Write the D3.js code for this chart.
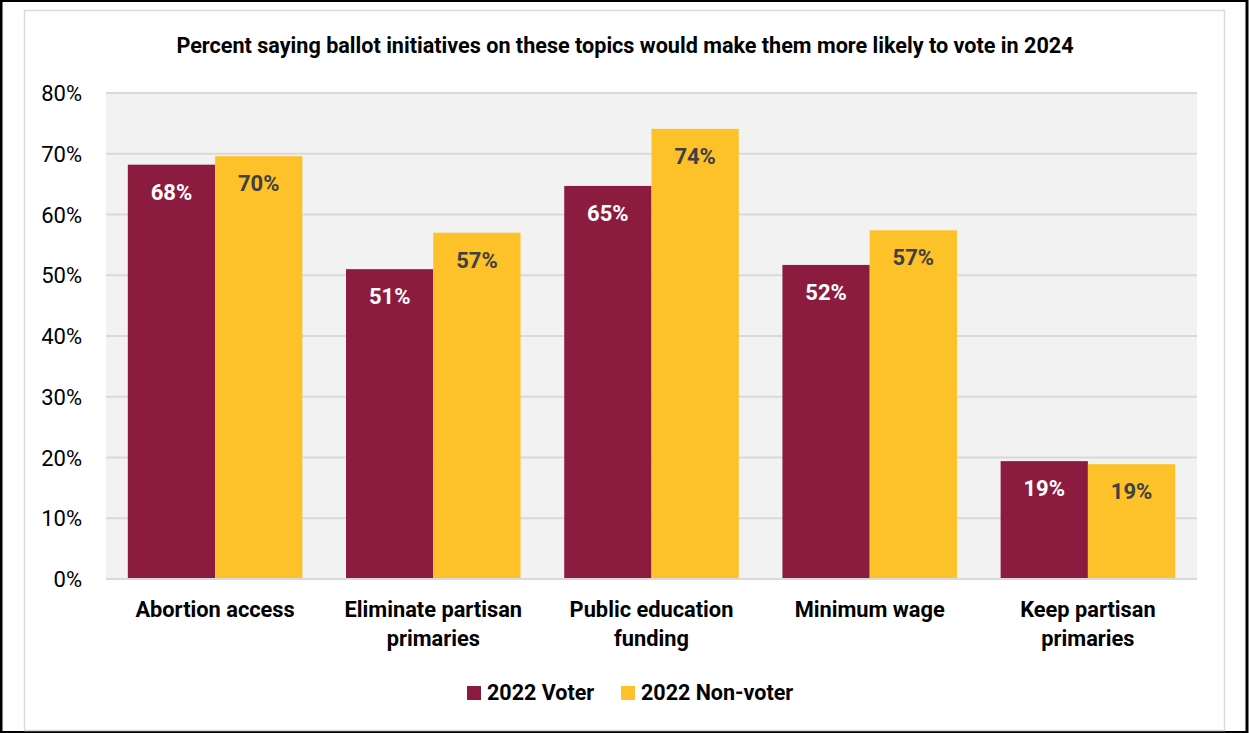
<!DOCTYPE html>
<html lang="en">
<head>
<meta charset="UTF-8">
<title>Ballot initiatives</title>
<script src="https://cdn.jsdelivr.net/npm/d3@7"></script>
<style>
  body { margin: 0; background: #fff; }
  svg { display: block; font-family: Roboto, 'Liberation Sans', sans-serif; }
</style>
</head>
<body>
<div id="chart"></div>
<script>
// data
var categories = [["Abortion access"], ["Eliminate partisan", "primaries"], ["Public education", "funding"], ["Minimum wage"], ["Keep partisan", "primaries"]];
var seriesNames = ["2022 Voter", "2022 Non-voter"];
var voter = [68.2, 51.0, 64.7, 51.7, 19.4];
var nonVoter = [69.6, 57.0, 74.1, 57.4, 18.9];
var yTicks = [0, 10, 20, 30, 40, 50, 60, 70, 80];

var colors = ["#8b1c40", "#fdc22a"];
var labelColors = ["#ffffff", "#404040"];

var W = 1249, H = 733;
var plot = { left: 106, right: 1197, top: 93, bottom: 579 };

var svg = d3.select("#chart").append("svg")
    .attr("width", W)
    .attr("height", H);

// outer black frame + inner grey frame
svg.append("rect").attr("x", 1).attr("y", 0.5).attr("width", W - 3).attr("height", H - 1)
    .attr("fill", "#fff").attr("stroke", "#000").attr("stroke-width", 3);
svg.append("rect").attr("x", 24.5).attr("y", 10.5).attr("width", 1200).attr("height", 720)
    .attr("fill", "#fff").attr("stroke", "#d9d9d9").attr("stroke-width", 1.5);

svg.append("text")
    .attr("x", 625).attr("y", 53)
    .attr("text-anchor", "middle")
    .attr("font-size", 21.6).attr("font-weight", "bold").attr("fill", "#000")
    .text("Percent saying ballot initiatives on these topics would make them more likely to vote in 2024");

// plot background
svg.append("rect")
    .attr("x", plot.left).attr("y", plot.top)
    .attr("width", plot.right - plot.left).attr("height", plot.bottom - plot.top)
    .attr("fill", "#f2f2f2");

var x = d3.scaleBand()
    .domain(d3.range(categories.length))
    .range([plot.left, plot.right])
    .paddingInner(0.2).paddingOuter(0.1);

var xs = d3.scaleBand()
    .domain(d3.range(seriesNames.length))
    .range([0, x.bandwidth()]);

var y = d3.scaleLinear()
    .domain([0, 80])
    .range([plot.bottom, plot.top]);

// grid lines
svg.append("g").selectAll("line")
    .data(yTicks)
    .enter().append("line")
    .attr("x1", plot.left).attr("x2", plot.right)
    .attr("y1", function (d) { return y(d); })
    .attr("y2", function (d) { return y(d); })
    .attr("stroke", "#d9d9d9").attr("stroke-width", 2);

// y axis labels
var yAxis = svg.append("g")
    .attr("transform", "translate(" + (plot.left - 21) + ",0)")
    .call(d3.axisLeft(y).tickValues(yTicks).tickSize(0).tickFormat(function (d) { return d + "%"; }));
yAxis.select(".domain").remove();
yAxis.selectAll("text").attr("font-size", 22).attr("fill", "#000")
    .attr("font-family", "Roboto, sans-serif").attr("dy", "0.35em");

// bars
var series = [voter, nonVoter];
series.forEach(function (vals, s) {
    var g = svg.append("g");
    g.selectAll("rect")
        .data(vals)
        .enter().append("rect")
        .attr("x", function (d, i) { return x(i) + xs(s); })
        .attr("y", function (d) { return y(d); })
        .attr("width", xs.bandwidth())
        .attr("height", function (d) { return y(0) - y(d); })
        .attr("fill", colors[s]);
    g.selectAll("text")
        .data(vals)
        .enter().append("text")
        .attr("x", function (d, i) { return x(i) + xs(s) + xs.bandwidth() / 2; })
        .attr("y", function (d) { return y(d) + 35; })
        .attr("text-anchor", "middle")
        .attr("font-size", 22).attr("font-weight", "bold")
        .attr("fill", labelColors[s])
        .text(function (d) { return Math.round(d) + "%"; });
});

// baseline
svg.append("line")
    .attr("x1", plot.left).attr("x2", plot.right)
    .attr("y1", y(0)).attr("y2", y(0))
    .attr("stroke", "#d9d9d9").attr("stroke-width", 2);

// category labels
var cat = svg.append("g").selectAll("text")
    .data(categories)
    .enter().append("text")
    .attr("x", function (d, i) { return x(i) + x.bandwidth() / 2; })
    .attr("y", 617)
    .attr("text-anchor", "middle")
    .attr("font-size", 21.8).attr("font-weight", "bold").attr("fill", "#000");
cat.selectAll("tspan")
    .data(function (d) { return d; })
    .enter().append("tspan")
    .attr("x", function () { return d3.select(this.parentNode).attr("x"); })
    .attr("dy", function (d, j) { return j === 0 ? 0 : 29; })
    .text(function (d) { return d; });

// legend
var legendX = [467, 621];
var legend = svg.append("g").selectAll("g")
    .data(seriesNames)
    .enter().append("g")
    .attr("transform", function (d, i) { return "translate(" + legendX[i] + ",686)"; });
legend.append("rect").attr("width", 14).attr("height", 14)
    .attr("fill", function (d, i) { return colors[i]; });
legend.append("text")
    .attr("x", 20).attr("y", 13.5)
    .attr("font-size", 21.5).attr("font-weight", "bold").attr("fill", "#000")
    .text(function (d) { return d; });
</script>
</body>
</html>
